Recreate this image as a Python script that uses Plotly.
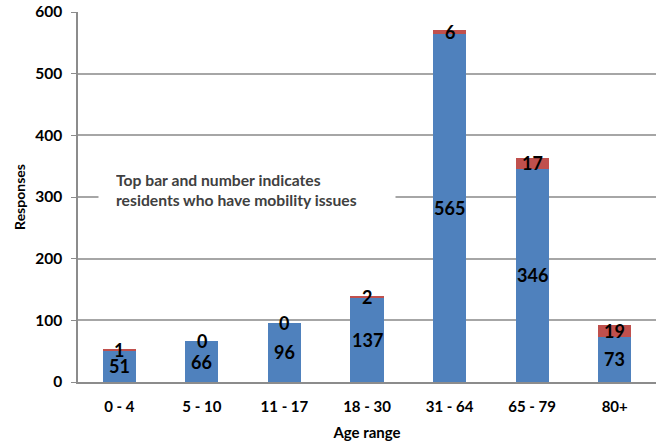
import plotly.graph_objects as go

categories = ["0 - 4", "5 - 10", "11 - 17", "18 - 30", "31 - 64", "65 - 79", "80+"]
no_mobility = [51, 66, 96, 137, 565, 346, 73]
mobility = [1, 0, 0, 2, 6, 17, 19]

blue = "#4F81BD"
red = "#C0504D"
font_family = "Lato, 'Open Sans', sans-serif"

fig = go.Figure()
fig.add_trace(go.Bar(x=categories, y=no_mobility, marker=dict(color=blue, line=dict(width=0)), name="Responses"))
fig.add_trace(go.Bar(x=categories, y=mobility, marker=dict(color=red, line=dict(width=0)), name="Mobility issues"))

label_font = dict(family=font_family, size=18, color="black", weight="bold")
annotations = []
for c, b, r in zip(categories, no_mobility, mobility):
    annotations.append(dict(x=c, y=b / 2, text=str(b), showarrow=False, font=label_font,
                            xref="x", yref="y"))
    annotations.append(dict(x=c, y=b + r / 2, text=str(r), showarrow=False, font=label_font,
                            xref="x", yref="y"))

annotations.append(dict(
    x=0.035, y=311, xref="paper", yref="y", xanchor="left", yanchor="middle",
    text="Top bar and number indicates<br>residents who have mobility issues",
    align="left", showarrow=False, bgcolor="white", borderpad=17, width=262,
    font=dict(family=font_family, size=15.7, color="#404040", weight="bold")))

fig.update_layout(
    annotations=annotations,
    barmode="stack",
    bargap=0.6,
    showlegend=False,
    plot_bgcolor="white",
    paper_bgcolor="white",
    width=656, height=444,
    margin=dict(l=78, r=0, t=12, b=62, autoexpand=False),
    xaxis=dict(
        showline=True, linecolor="#8C8C8C", linewidth=1.5,
        ticks="", ticklabelstandoff=10,
        tickfont=dict(family=font_family, size=15, color="black", weight="bold"),
        title=dict(text="Age range", font=dict(family=font_family, size=15, color="black", weight="bold"), standoff=14),
    ),
    yaxis=dict(
        range=[0, 600], dtick=100,
        showgrid=True, gridcolor="#A6A6A6", gridwidth=1.5,
        showline=True, linecolor="#8C8C8C", linewidth=1.5,
        ticks="outside", ticklen=5, tickcolor="#8C8C8C", ticklabelstandoff=6,
        zeroline=False,
        tickfont=dict(family=font_family, size=15.5, color="black", weight="bold"),
        title=dict(text="Responses", font=dict(family=font_family, size=14, color="black", weight="bold"), standoff=6),
    ),
)

fig.write_html("out.html", config={"displayModeBar": False},
               post_script="document.body.style.margin='0';document.body.style.padding='0';")
